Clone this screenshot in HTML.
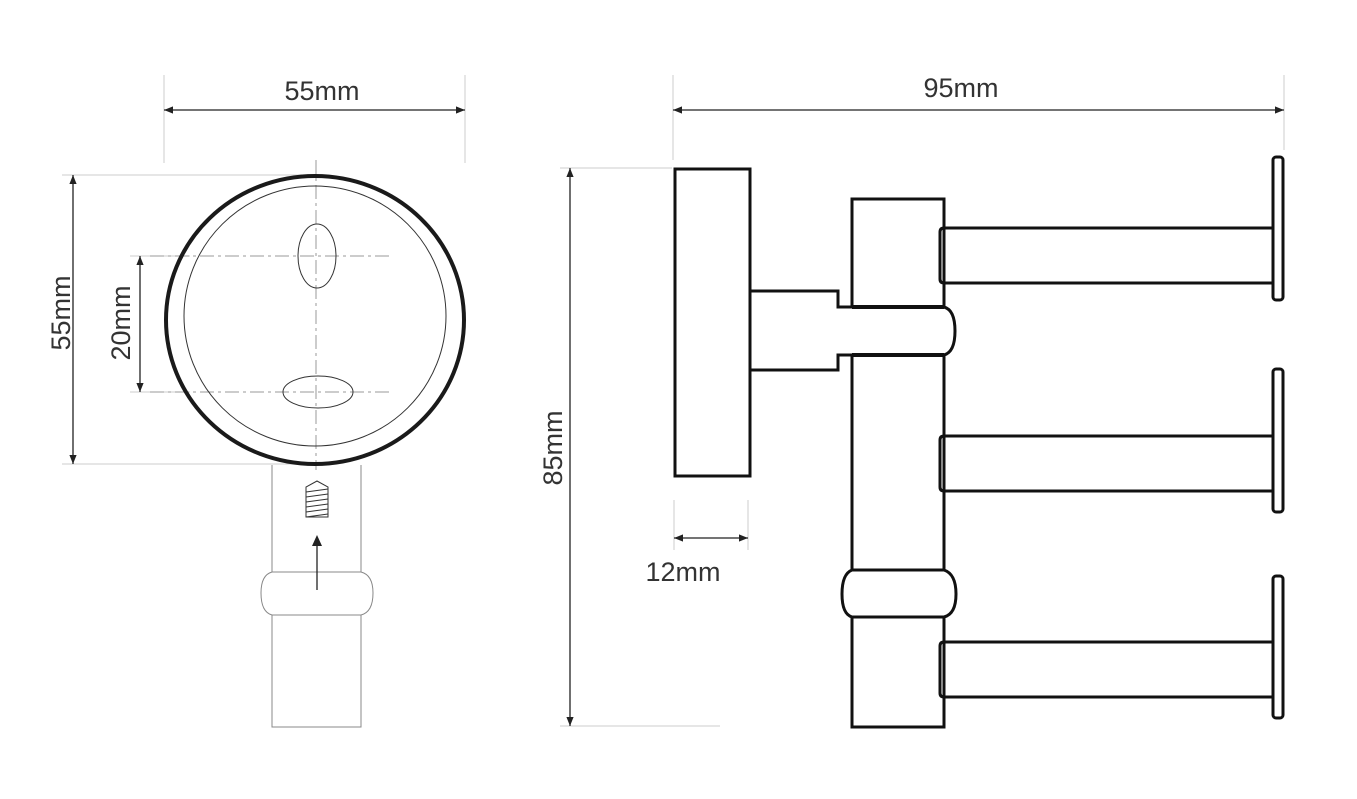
<!DOCTYPE html>
<html><head><style>body{margin:0;background:#fff}svg{display:block}</style></head><body>
<svg width="1357" height="799" viewBox="0 0 1357 799" xmlns="http://www.w3.org/2000/svg" font-family="Liberation Sans, DejaVu Sans, sans-serif" font-size="27" fill="none">
<defs>
<marker id="a" viewBox="0 0 10 10" refX="10" refY="5" markerWidth="9" markerHeight="9" orient="auto-start-reverse" markerUnits="userSpaceOnUse"><path d="M0,1 L10,5 L0,9z" fill="#222"/></marker>
</defs>
<g stroke="#ccc" stroke-width="1">
<line x1="164" y1="75" x2="164" y2="163"/><line x1="465" y1="75" x2="465" y2="163"/>
<line x1="62" y1="175" x2="310" y2="175"/><line x1="62" y1="464" x2="310" y2="464"/>
<line x1="130" y1="256" x2="190" y2="256"/><line x1="130" y1="392" x2="190" y2="392"/>
<line x1="673" y1="75" x2="673" y2="160"/><line x1="1284" y1="75" x2="1284" y2="150"/>
<line x1="560" y1="168" x2="672" y2="168"/><line x1="560" y1="726" x2="720" y2="726"/>
<line x1="674" y1="500" x2="674" y2="550"/><line x1="748" y1="500" x2="748" y2="550"/>
</g>
<g stroke="#222" stroke-width="1.3">
<line x1="164" y1="110" x2="465" y2="110" marker-start="url(#a)" marker-end="url(#a)"/>
<line x1="73" y1="175" x2="73" y2="464" marker-start="url(#a)" marker-end="url(#a)"/>
<line x1="140" y1="256" x2="140" y2="392" marker-start="url(#a)" marker-end="url(#a)"/>
<line x1="673" y1="110" x2="1284" y2="110" marker-start="url(#a)" marker-end="url(#a)"/>
<line x1="570" y1="168" x2="570" y2="726" marker-start="url(#a)" marker-end="url(#a)"/>
<line x1="674" y1="538" x2="748" y2="538" marker-start="url(#a)" marker-end="url(#a)"/>
</g>
<g fill="#333" stroke="none">
<text x="322" y="100" text-anchor="middle">55mm</text>
<text x="961" y="97" text-anchor="middle">95mm</text>
<text x="683" y="581" text-anchor="middle">12mm</text>
<text transform="translate(70,313) rotate(-90)" text-anchor="middle">55mm</text>
<text transform="translate(130,323) rotate(-90)" text-anchor="middle">20mm</text>
<text transform="translate(562,448) rotate(-90)" text-anchor="middle">85mm</text>
</g>
<g stroke="#888" stroke-width="1">
<line x1="272" y1="465" x2="272" y2="572"/><line x1="361" y1="465" x2="361" y2="572"/>
<path d="M272,572 L361,572 Q373,575 373,593 Q373,612 361,615 L272,615 Q261,612 261,593 Q261,575 272,572z"/>
<path d="M272,615 L272,727 L361,727 L361,615"/>
</g>
<g stroke="#999" stroke-width="1" stroke-dasharray="14,4,3,4">
<line x1="316" y1="160" x2="316" y2="470"/>
<line x1="150" y1="256" x2="393" y2="256"/>
<line x1="150" y1="392" x2="393" y2="392"/>
</g>
<ellipse cx="315" cy="320" rx="149" ry="144" stroke="#1a1a1a" stroke-width="4" fill="none"/>
<ellipse cx="315" cy="316" rx="131" ry="130" stroke="#333" stroke-width="1"/>
<ellipse cx="317" cy="256" rx="19" ry="32" stroke="#333" stroke-width="1"/>
<ellipse cx="318" cy="392" rx="35" ry="16" stroke="#333" stroke-width="1"/>
<g stroke="#333" stroke-width="1">
<path d="M306,487 L306,517 L328,517 L328,487 L317,481z"/>
<path d="M306,492 L328,489 M306,497 L328,494 M306,502 L328,499 M306,507 L328,504 M306,512 L328,509 M306,517 L328,514"/>
</g>
<line x1="317" y1="590" x2="317" y2="540" stroke="#222" stroke-width="1.3"/>
<path d="M312,546 L317,535 L322,546z" fill="#222"/>
<g stroke="#111" stroke-width="3">
<rect x="675" y="169" width="75" height="307"/>
<path d="M750,291 L838,291 L838,307 L944,307 Q955,310 955,331 Q955,352 944,355 L838,355 L838,370 L750,370"/>
<path d="M852,307 L852,199 L944,199 L944,307"/>
<path d="M852,355 L852,570 M944,355 L944,570"/>
<path d="M852,570 L944,570 Q956,574 956,594 Q956,614 944,617 L852,617 Q842,614 842,594 Q842,574 852,570z"/>
<path d="M852,617 L852,727 L944,727 L944,617"/>
<path d="M1273,228 L944,228 Q940,228 940,232 L940,279 Q940,283 944,283 L1273,283"/>
<path d="M1273,436 L944,436 Q940,436 940,440 L940,487 Q940,491 944,491 L1273,491"/>
<path d="M1273,642 L944,642 Q940,642 940,646 L940,693 Q940,697 944,697 L1273,697"/>
<rect x="1273" y="157" width="10" height="143" rx="3"/>
<rect x="1273" y="369" width="10" height="143" rx="3"/>
<rect x="1273" y="576" width="10" height="142" rx="3"/>
</g>
<path d="M852,307 L944,307 M852,355 L944,355" stroke="#111" stroke-width="4"/>
</svg>
</body></html>
